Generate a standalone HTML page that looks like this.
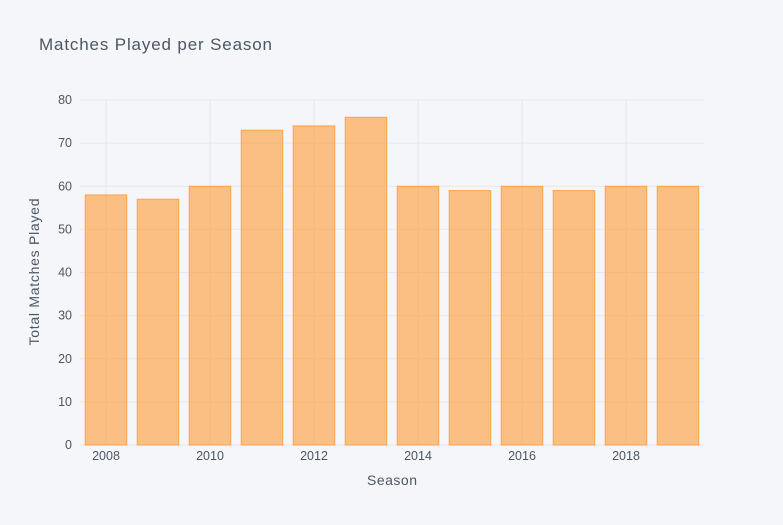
<!DOCTYPE html>
<html><head><meta charset="utf-8"><style>
body{margin:0;background:#f5f6f9;}
svg{display:block;font-family:"Liberation Sans",sans-serif;}
</style></head><body>
<svg id="chart" width="783" height="525">
<rect width="783" height="525" fill="#f5f6f9"/>
<text x="39" y="50" font-size="17" fill="#4d5663" textLength="233">Matches Played per Season</text>
<g id="grid"></g><g id="bars"></g><g id="ticks"></g>
<text x="392" y="485" font-size="14" fill="#4d5663" text-anchor="middle" textLength="50">Season</text>
<text transform="translate(39,272) rotate(-90)" font-size="14" fill="#4d5663" text-anchor="middle" textLength="147">Total Matches Played</text>
</svg>
<script>
const seasons=[2008,2009,2010,2011,2012,2013,2014,2015,2016,2017,2018,2019];
const matches=[58,57,60,73,74,76,60,59,60,59,60,60];
const yTicks=[0,10,20,30,40,50,60,70,80];
const xTicks=[2008,2010,2012,2014,2016,2018];
const NS="http://www.w3.org/2000/svg";
const x=v=>80+(v-2007.5)*52;
const y=v=>445-v*4.3125;
function mk(tag,attrs,parent,txt){const e=document.createElementNS(NS,tag);for(const k in attrs)e.setAttribute(k,attrs[k]);if(txt!==undefined)e.textContent=txt;document.getElementById(parent).appendChild(e);return e;}
yTicks.forEach(t=>{
 const g=mk('line',{x1:80,x2:704,y1:y(t),y2:y(t),stroke:t===0?'#e1e4ea':'#e6e8ee','stroke-width':1},'grid');
 
 
 const l=mk('text',{x:72,y:y(t)+4,'font-size':12.5,fill:'#4d5663','text-anchor':'end'},'ticks',t);
 
 
});
xTicks.forEach(t=>{
 const g=mk('line',{x1:x(t),x2:x(t),y1:100,y2:445,stroke:'#e6e8ee','stroke-width':1},'grid');
 
 
 const l=mk('text',{x:x(t),y:460,'font-size':12.5,fill:'#4d5663','text-anchor':'middle'},'ticks',t);
 
 
});
seasons.forEach((s,i)=>{
 const w=41.6;
 const b=mk('rect',{x:x(s)-w/2,y:y(matches[i]),width:w,height:y(0)-y(matches[i]),fill:'rgba(255,153,51,0.6)',stroke:'rgba(255,153,51,0.8)','stroke-width':1},'bars');
 
 
});
</script>
</body></html>
